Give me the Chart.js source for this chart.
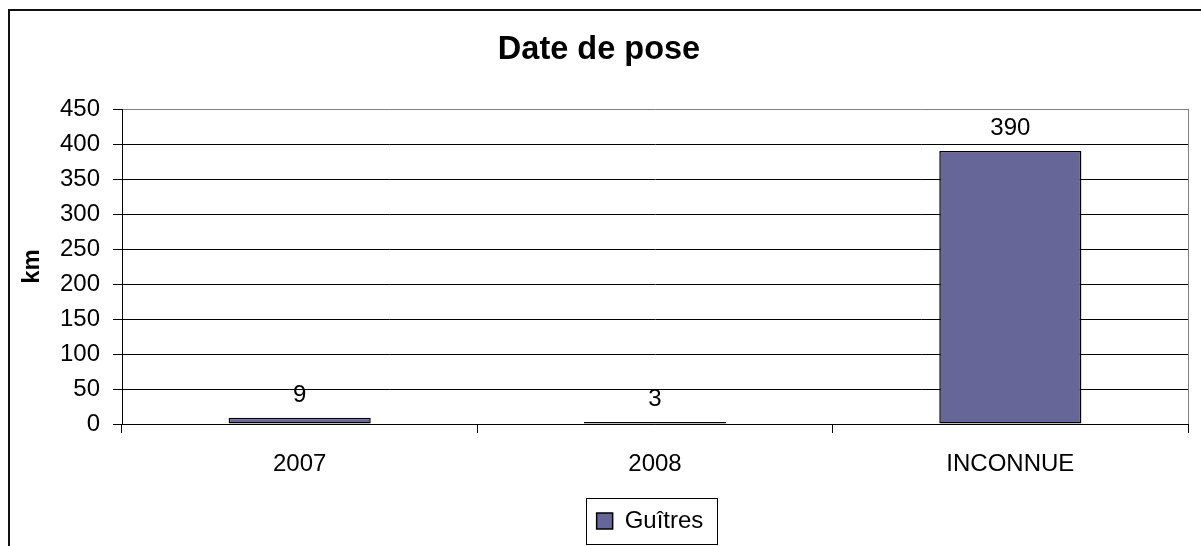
<!DOCTYPE html>
<html>
<head>
<meta charset="utf-8">
<script src="https://cdn.jsdelivr.net/npm/chart.js@4"></script>
<style>
  html, body { margin: 0; padding: 0; background: #fff; overflow: hidden; }
  #frame {
    position: absolute; left: 8px; top: 9px; width: 2000px; height: 2000px;
    border-left: 2px solid #111; border-top: 2px solid #111;
  }
  #wrap { position: absolute; left: 0; top: 0; width: 1201px; height: 546px; }
</style>
</head>
<body>
<div id="frame"></div>
<div id="wrap"><canvas id="chart"></canvas></div>
<script>
// --- data ---
const categories = ['2007', '2008', 'INCONNUE'];
const values = [9, 3, 390];
const seriesName = 'Guîtres';
const yMin = 0, yMax = 450, yStep = 50;

const FONT = "'Liberation Sans', Arial, sans-serif";
Chart.defaults.color = '#000';
Chart.defaults.font.family = FONT;

// value labels above bars
const valueLabels = {
  id: 'valueLabels',
  afterDatasetsDraw(chart) {
    const ctx = chart.ctx;
    const meta = chart.getDatasetMeta(0);
    ctx.save();
    ctx.font = '24px ' + FONT;
    ctx.fillStyle = '#000';
    ctx.textAlign = 'center';
    ctx.textBaseline = 'alphabetic';
    meta.data.forEach((bar, i) => {
      ctx.fillText(String(values[i]), bar.x, bar.y - 16);
    });
    ctx.restore();
  }
};

// legend sits a bit right of centre in the original
const legendShift = {
  id: 'legendShift',
  afterLayout(chart) {
    chart.legend.left += 51;
    chart.legend.right += 51;
  }
};

// grey right edge of plot area + border around legend
const frameBits = {
  id: 'frameBits',
  afterDraw(chart) {
    const ctx = chart.ctx;
    const a = chart.chartArea;
    ctx.save();
    ctx.strokeStyle = '#808080';
    ctx.lineWidth = 1;
    ctx.beginPath();
    ctx.moveTo(Math.round(a.right) + 0.5, Math.round(a.top));
    ctx.lineTo(Math.round(a.right) + 0.5, Math.round(a.bottom));
    ctx.stroke();

    const hb = chart.legend.legendHitBoxes[0];
    if (hb) {
      ctx.strokeStyle = '#000';
      ctx.lineWidth = 1;
      const x0 = Math.round(hb.left - 11) + 0.5;
      const x1 = Math.round(hb.left + hb.width + 14) + 0.5;
      const y0 = Math.round(hb.top - 11) + 0.5;
      const y1 = Math.round(hb.top + hb.height + 11) + 0.5;
      ctx.strokeRect(x0, y0, x1 - x0, y1 - y0);
    }
    ctx.restore();
  }
};

new Chart(document.getElementById('chart'), {
  type: 'bar',
  data: {
    labels: categories,
    datasets: [{
      label: seriesName,
      data: values,
      backgroundColor: '#666699',
      borderColor: '#000',
      borderWidth: 1.5,
      borderSkipped: false,
      barPercentage: 0.4,
      categoryPercentage: 1.0
    }]
  },
  options: {
    responsive: true,
    maintainAspectRatio: false,
    animation: false,
    layout: { padding: { left: 10, right: 13, top: 10, bottom: 3 } },
    plugins: {
      title: {
        display: true,
        text: 'Date de pose',
        font: { size: 32.5, weight: 'bold', family: FONT },
        color: '#000',
        padding: { top: 21, bottom: 39 }
      },
      legend: {
        position: 'bottom',
        labels: {
          boxWidth: 16,
          boxHeight: 16,
          padding: 10,
          font: { size: 24, family: FONT },
          color: '#000'
        }
      },
      tooltip: { enabled: false }
    },
    scales: {
      x: {
        grid: {
          display: true,
          drawOnChartArea: false,
          drawTicks: true,
          tickLength: 9,
          color: '#000',
          offset: true
        },
        border: { display: true, color: '#000', width: 1 },
        ticks: { font: { size: 24, family: FONT }, color: '#000', padding: 17, maxRotation: 0 },
        afterFit(scale) { scale.height = 75; }
      },
      y: {
        min: yMin,
        max: yMax,
        ticks: { stepSize: yStep, font: { size: 24, family: FONT }, color: '#000', padding: 13 },
        grid: {
          color: (c) => (c.tick && c.tick.value === yMax ? '#808080' : '#000'),
          tickColor: '#000',
          tickLength: 9,
          lineWidth: 1
        },
        border: { display: true, color: '#000', width: 1 },
        title: {
          display: true,
          text: 'km',
          font: { size: 24, weight: 'bold', family: FONT },
          color: '#000',
          padding: { top: 8, bottom: 0 }
        },
        afterFit(scale) { scale.width = 112; }
      }
    }
  },
  plugins: [valueLabels, legendShift, frameBits]
});
</script>
</body>
</html>
